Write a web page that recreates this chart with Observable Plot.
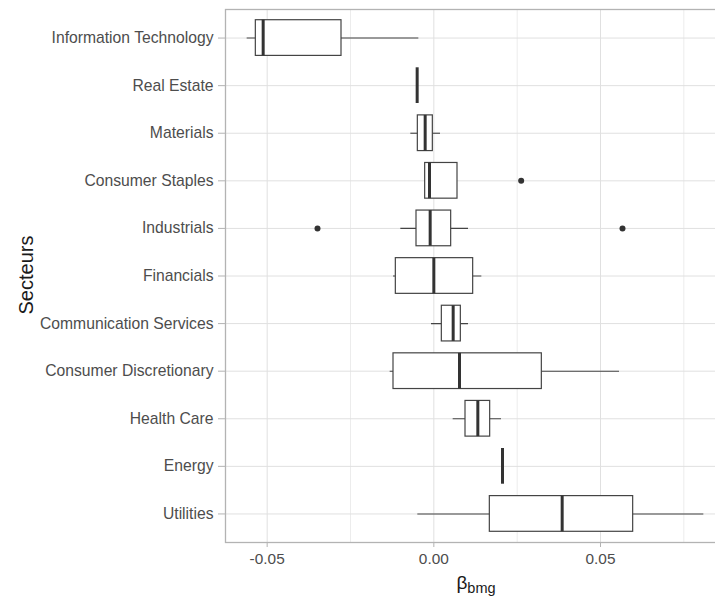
<!DOCTYPE html>
<html>
<head>
<meta charset="utf-8">
<script src="https://cdn.jsdelivr.net/npm/d3@7"></script>
<script src="https://cdn.jsdelivr.net/npm/@observablehq/plot@0.6"></script>
<style>
  html, body { margin: 0; padding: 0; background: white; overflow: hidden; }
  svg { overflow: hidden; }
</style>
</head>
<body>
<div id="chart"></div>
<script>
const categories = [
  "Information Technology", "Real Estate", "Materials", "Consumer Staples",
  "Industrials", "Financials", "Communication Services", "Consumer Discretionary",
  "Health Care", "Energy", "Utilities"
];
const whiskerLow  = [-0.0560, -0.0050, -0.0069, -0.0026, -0.0099, -0.0121, -0.0007, -0.0131, 0.0058, 0.0206, -0.0048];
const q1          = [-0.0534, -0.0050, -0.0048, -0.0026, -0.0052, -0.0114,  0.0024, -0.0121, 0.0095, 0.0206,  0.0168];
const median      = [-0.0512, -0.0050, -0.0026, -0.0013, -0.0011,  0.0000,  0.0058,  0.0077, 0.0132, 0.0206,  0.0385];
const q3          = [-0.0277, -0.0050, -0.0003,  0.0071,  0.0052,  0.0118,  0.0081,  0.0324, 0.0169, 0.0206,  0.0598];
const whiskerHigh = [-0.0045, -0.0050,  0.0020,  0.0071,  0.0104,  0.0144,  0.0104,  0.0557, 0.0203, 0.0206,  0.0810];

const outlierSector = ["Consumer Staples", "Industrials", "Industrials"];
const outlierValue  = [0.0262, -0.0349, 0.0566];

const majorTicks = [-0.05, 0, 0.05];
const minorTicks = [-0.025, 0.025, 0.075];

const stats = categories.map((c, i) => ({
  sector: c, lo: whiskerLow[i], q1: q1[i], med: median[i], q3: q3[i], hi: whiskerHigh[i]
}));
const outliers = outlierSector.map((s, i) => ({sector: s, value: outlierValue[i]}));

const font = "'Liberation Sans', Arial, sans-serif";

const svg = Plot.plot({
  width: 715,
  height: 597,
  marginLeft: 225,
  marginRight: 0,
  marginTop: 9,
  marginBottom: 55,
  style: {fontFamily: font, fontSize: "15px", background: "white"},
  x: {domain: [-0.0625, 0.0845], label: null},
  y: {domain: categories, paddingInner: 0.25, paddingOuter: 0.225, round: false, label: null},
  marks: [
    Plot.ruleX(minorTicks, {stroke: "#ececec", strokeWidth: 1}),
    Plot.ruleX(majorTicks, {stroke: "#e0e0e0", strokeWidth: 1}),
    Plot.ruleY(categories, {stroke: "#e0e0e0", strokeWidth: 1}),
    Plot.frame({stroke: "#b3b3b3", strokeWidth: 1.3, insetRight: -20}),
    Plot.axisY({tickSize: 7, tickPadding: 5, stroke: "#b3b3b3", fill: "#4d4d4d", fontSize: 15.7, label: null}),
    Plot.axisX({ticks: majorTicks, tickFormat: d => d.toFixed(2), tickSize: 5, tickPadding: 6,
                stroke: "#b3b3b3", fill: "#4d4d4d", fontSize: 15.4, label: null}),
    Plot.ruleY(stats, {y: "sector", x1: "lo", x2: "hi", stroke: "#444", strokeWidth: 1.1}),
    Plot.barX(stats, {y: "sector", x1: "q1", x2: "q3", fill: "white", stroke: "#444", strokeWidth: 1.2}),
    Plot.tickX(stats, {y: "sector", x: "med", stroke: "#333", strokeWidth: 3}),
    Plot.dot(outliers, {y: "sector", x: "value", r: 3, fill: "#333", stroke: "none"})
  ]
});

const s = d3.select(svg);
s.append("text")
  .attr("transform", "translate(26,275) rotate(-90)")
  .attr("text-anchor", "middle")
  .attr("dominant-baseline", "central")
  .attr("font-family", font)
  .attr("font-size", 20)
  .attr("fill", "#1a1a1a")
  .text("Secteurs");

const xt = s.append("text")
  .attr("x", 476)
  .attr("y", 589)
  .attr("text-anchor", "middle")
  .attr("font-family", font)
  .attr("fill", "#1a1a1a");
xt.append("tspan").attr("font-size", 19).text("β");
xt.append("tspan").attr("font-size", 14.5).attr("dy", 3.5).text("bmg");

document.getElementById("chart").appendChild(svg);
</script>
</body>
</html>
